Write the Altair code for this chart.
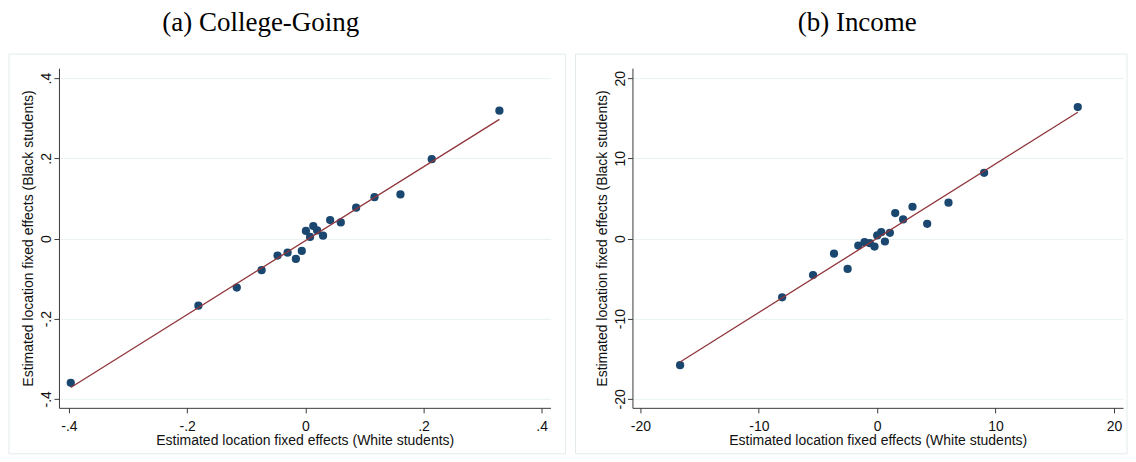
import altair as alt
import pandas as pd

TITLES = ["(a) College-Going", "(b) Income"]
X_TITLE = "Estimated location fixed effects (White students)"
Y_TITLE = "Estimated location fixed effects (Black students)"

COLLEGE_WHITE = [-0.397, -0.181, -0.116, -0.074, -0.047, -0.030, -0.016, -0.006, 0.001, 0.008,
                 0.0135, 0.020, 0.030, 0.042, 0.060, 0.086, 0.117, 0.161, 0.214, 0.3285]
COLLEGE_BLACK = [-0.360, -0.1675, -0.1225, -0.079, -0.0425, -0.035, -0.051, -0.031, 0.019, 0.004,
                 0.031, 0.020, 0.007, 0.046, 0.040, 0.077, 0.103, 0.110, 0.198, 0.319]

INCOME_WHITE = [-16.65, -8.03, -5.42, -3.65, -2.50, -1.60, -1.07, -0.62, -0.23, 0.00,
                0.34, 0.65, 1.07, 1.52, 2.19, 2.98, 4.22, 6.02, 9.03, 16.94]
INCOME_BLACK = [-15.8, -7.33, -4.56, -1.875, -3.79, -0.875, -0.46, -0.58, -1.0, 0.375,
                0.79, -0.375, 0.71, 3.17, 2.375, 3.96, 1.83, 4.46, 8.2, 16.4]

COLLEGE_TICKS = [-0.4, -0.2, 0.0, 0.2, 0.4]
COLLEGE_TICK_LABELS = ["-.4", "-.2", "0", ".2", ".4"]
INCOME_TICKS = [-20, -10, 0, 10, 20]
INCOME_TICK_LABELS = ["-20", "-10", "0", "10", "20"]

COLLEGE_X_DOMAIN = [-0.417, 0.415]
COLLEGE_Y_DOMAIN = [-0.4225, 0.425]
INCOME_X_DOMAIN = [-20.675, 20.76]
INCOME_Y_DOMAIN = [-21.125, 21.25]

DOT = "#1a476f"
FIT = "#90353b"
GRID = "#eaf2f3"
FRAME = "#e3ebed"
AXIS = "#3a3a3a"


def label_expr(vals, labels):
    expr = "''"
    for v, lab in reversed(list(zip(vals, labels))):
        expr = f"(datum.value == {v} ? '{lab}' : {expr})"
    return expr


def panel(white, black, title, ticks, tick_labels, xdom, ydom, width, fx1, fx2, title_x):
    df = pd.DataFrame({"white": white, "black": black})
    lexpr = label_expr(ticks, tick_labels)
    xenc = alt.X(
        "white:Q",
        scale=alt.Scale(domain=xdom, nice=False, zero=False),
        axis=alt.Axis(values=ticks, labelExpr=lexpr, title=X_TITLE, grid=False,
                      labelPadding=7, titlePadding=0),
    )
    yenc = alt.Y(
        "black:Q",
        scale=alt.Scale(domain=ydom, nice=False, zero=False),
        axis=alt.Axis(values=ticks, labelExpr=lexpr, title=Y_TITLE, grid=True,
                      gridColor=GRID, gridWidth=1, labelAngle=270, labelAlign="center",
                      labelBaseline="bottom", labelPadding=0, titlePadding=4),
    )
    base = alt.Chart(df)
    points = base.mark_circle(size=68, color=DOT, opacity=1).encode(x=xenc, y=yenc)
    fit = base.transform_regression("white", "black").mark_line(
        color=FIT, strokeWidth=1.3
    ).encode(x=xenc, y=yenc)
    frame = alt.Chart(pd.DataFrame({"k": [0]})).mark_rect(
        filled=False, stroke=FRAME, strokeWidth=1
    ).encode(x=alt.value(fx1), x2=alt.value(fx2), y=alt.value(-14), y2=alt.value(386))
    ttl = alt.Chart(pd.DataFrame({"t": [title]})).mark_text(
        font="Liberation Serif", fontSize=27, align="center", baseline="alphabetic", color="black"
    ).encode(text="t:N", x=alt.value(title_x), y=alt.value(-37))
    return alt.layer(frame, points, fit, ttl).properties(width=width, height=340)


left = panel(COLLEGE_WHITE, COLLEGE_BLACK, TITLES[0], COLLEGE_TICKS, COLLEGE_TICK_LABELS,
             COLLEGE_X_DOMAIN, COLLEGE_Y_DOMAIN, 492, -50, 507, 202)
right = panel(INCOME_WHITE, INCOME_BLACK, TITLES[1], INCOME_TICKS, INCOME_TICK_LABELS,
              INCOME_X_DOMAIN, INCOME_Y_DOMAIN, 491, -57, 495, 225)

chart = alt.hconcat(left, right, spacing=8).properties(
    padding=0, background="white"
).configure_view(stroke="transparent").configure_axis(
    labelFont="Liberation Sans", titleFont="Liberation Sans",
    labelFontSize=14, titleFontSize=14, titleFontWeight="normal",
    tickSize=5, domainColor=AXIS, tickColor=AXIS, domainWidth=1, tickWidth=1,
    labelColor="#111", titleColor="#111", labelFlush=False, labelOverlap=False,
)

chart.save("out.html", embed_options={"renderer": "svg", "actions": False})
